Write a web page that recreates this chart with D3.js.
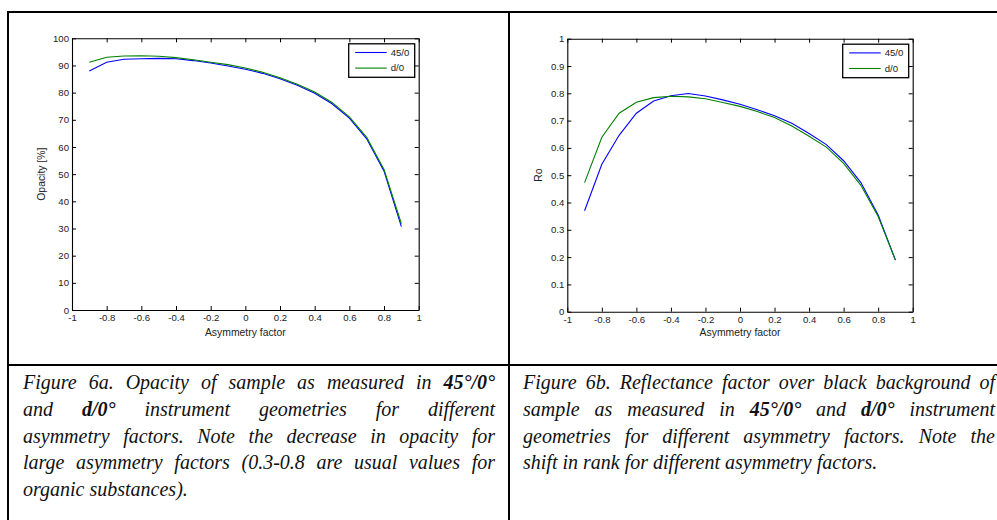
<!DOCTYPE html>
<html>
<head>
<meta charset="utf-8">
<script src="https://cdn.jsdelivr.net/npm/d3@7"></script>
<style>
  html, body { margin: 0; padding: 0; background: #fff; }
  svg { display: block; }
  .tick text { font-family: "Liberation Sans", Arial, sans-serif; font-size: 9.6px; fill: #222; }
</style>
</head>
<body>
<svg id="chart" width="997" height="520"></svg>
<script>
// ---------------- data ----------------
const asymmetry = [-0.9, -0.8, -0.7, -0.6, -0.5, -0.4, -0.3, -0.2, -0.1, 0, 0.1, 0.2, 0.3, 0.4, 0.5, 0.6, 0.7, 0.8, 0.9];
const opacity45 = [88.0, 91.2, 92.3, 92.5, 92.6, 92.5, 91.8, 90.9, 89.8, 88.6, 87.1, 85.1, 82.7, 79.8, 75.9, 70.6, 63.0, 51.1, 30.7];
const opacityD0 = [91.2, 93.0, 93.5, 93.6, 93.4, 92.9, 92.1, 91.2, 90.3, 89.1, 87.5, 85.5, 83.1, 80.2, 76.4, 71.1, 63.6, 51.7, 31.8];
const ro45 = [0.370, 0.540, 0.646, 0.727, 0.772, 0.791, 0.799, 0.790, 0.776, 0.760, 0.740, 0.718, 0.690, 0.653, 0.612, 0.553, 0.473, 0.354, 0.189];
const roD0 = [0.473, 0.639, 0.727, 0.767, 0.784, 0.789, 0.787, 0.780, 0.766, 0.752, 0.733, 0.711, 0.680, 0.643, 0.603, 0.543, 0.463, 0.349, 0.189];
const seriesNames = ["45/0", "d/0"];
const seriesColors = ["#0000ff", "#008000"];
const xTicks = [-1, -0.8, -0.6, -0.4, -0.2, 0, 0.2, 0.4, 0.6, 0.8, 1];
const opacityTicks = [0, 10, 20, 30, 40, 50, 60, 70, 80, 90, 100];
const roTicks = [0, 0.1, 0.2, 0.3, 0.4, 0.5, 0.6, 0.7, 0.8, 0.9, 1];
const captionA = [
  [["Figure"], ["6a."], ["Opacity"], ["of"], ["sample"], ["as"], ["measured"], ["in"], ["45°/0°", 1]],
  [["and"], ["d/0°", 1], ["instrument"], ["geometries"], ["for"], ["different"]],
  [["asymmetry"], ["factors."], ["Note"], ["the"], ["decrease"], ["in"], ["opacity"], ["for"]],
  [["large"], ["asymmetry"], ["factors"], ["(0.3-0.8"], ["are"], ["usual"], ["values"], ["for"]],
  [["organic"], ["substances)."]]
];
const captionB = [
  [["Figure"], ["6b."], ["Reflectance"], ["factor"], ["over"], ["black"], ["background"], ["of"]],
  [["sample"], ["as"], ["measured"], ["in"], ["45°/0°", 1], ["and"], ["d/0°", 1], ["instrument"]],
  [["geometries"], ["for"], ["different"], ["asymmetry"], ["factors."], ["Note"], ["the"]],
  [["shift"], ["in"], ["rank"], ["for"], ["different"], ["asymmetry"], ["factors."]]
];

const svg = d3.select("#chart");
svg.append("rect").attr("width", 997).attr("height", 520).attr("fill", "#fff");

// ---------------- table borders ----------------
const border = svg.append("g").attr("stroke", "#000").attr("stroke-width", 2);
border.append("line").attr("x1", 7).attr("x2", 997).attr("y1", 12).attr("y2", 12);
border.append("line").attr("x1", 8).attr("x2", 8).attr("y1", 11).attr("y2", 520);
border.append("line").attr("x1", 509).attr("x2", 509).attr("y1", 11).attr("y2", 520);
border.append("line").attr("x1", 7).attr("x2", 997).attr("y1", 365).attr("y2", 365);

// ---------------- chart drawing ----------------
function drawChart(cfg) {
  const { left, right, top, bottom, yDomain, yTicks, yFmt, series, yLabel, yLabelX } = cfg;
  const x = d3.scaleLinear().domain([-1, 1]).range([left, right]);
  const y = d3.scaleLinear().domain(yDomain).range([bottom, top]);
  const g = svg.append("g");

  const fmt = v => String(+v.toFixed(2));

  g.append("g").attr("transform", `translate(0,${bottom})`)
    .call(d3.axisBottom(x).tickValues(xTicks).tickFormat(fmt).tickSizeInner(-4).tickSizeOuter(0).tickPadding(4));
  g.append("g").attr("transform", `translate(0,${top})`)
    .call(d3.axisTop(x).tickValues(xTicks).tickFormat("").tickSizeInner(-4).tickSizeOuter(0));
  g.append("g").attr("transform", `translate(${left},0)`)
    .call(d3.axisLeft(y).tickValues(yTicks).tickFormat(yFmt).tickSizeInner(-4).tickSizeOuter(0).tickPadding(3));
  g.append("g").attr("transform", `translate(${right},0)`)
    .call(d3.axisRight(y).tickValues(yTicks).tickFormat("").tickSizeInner(-4).tickSizeOuter(0));
  g.selectAll(".domain").attr("stroke", "#000").attr("stroke-width", 1.1);
  g.selectAll(".tick line").attr("stroke", "#000");

  const line = d3.line().x((d, i) => x(asymmetry[i])).y(d => y(d));
  series.forEach((s, k) => {
    g.append("path").datum(s).attr("d", line)
      .attr("fill", "none").attr("stroke", seriesColors[k]).attr("stroke-width", 1.1);
  });

  // axis labels
  g.append("text").attr("x", (left + right) / 2).attr("y", 336)
    .attr("text-anchor", "middle")
    .style("font-family", '"Liberation Sans", Arial, sans-serif').style("font-size", "10.4px").attr("fill", "#222")
    .text("Asymmetry factor");
  g.append("text").attr("transform", `translate(${yLabelX},${(top + bottom) / 2}) rotate(-90)`)
    .attr("text-anchor", "middle").attr("dy", "0.35em")
    .style("font-family", '"Liberation Sans", Arial, sans-serif').style("font-size", "10.4px").attr("fill", "#222")
    .text(yLabel);

  // legend
  const bw = 66, bh = 33.5;
  const bx = right - 4 - bw, by = top + 5.5;
  const lg = g.append("g").attr("transform", `translate(${bx},${by})`);
  lg.append("rect").attr("width", bw).attr("height", bh).attr("fill", "#fff")
    .attr("stroke", "#000").attr("stroke-width", 1.3);
  seriesNames.forEach((n, k) => {
    const yy = 8.7 + k * 15.6;
    lg.append("line").attr("x1", 6.5).attr("x2", 38).attr("y1", yy).attr("y2", yy)
      .attr("stroke", seriesColors[k]).attr("stroke-width", 1.1);
    lg.append("text").attr("x", 42).attr("y", yy).attr("dy", "0.35em")
      .style("font-family", '"Liberation Sans", Arial, sans-serif').style("font-size", "9.6px").attr("fill", "#222")
      .text(n);
  });
}

drawChart({
  left: 72, right: 418.7, top: 38.3, bottom: 310,
  yDomain: [0, 100], yTicks: opacityTicks, yFmt: d => String(d),
  series: [opacity45, opacityD0], yLabel: "Opacity [%]", yLabelX: 41
});
drawChart({
  left: 567.3, right: 912.7, top: 38.7, bottom: 311.7,
  yDomain: [0, 1], yTicks: roTicks, yFmt: d => String(+d.toFixed(1)),
  series: [ro45, roD0], yLabel: "Ro", yLabelX: 538
});

// ---------------- captions ----------------
const capFont = '"Liberation Serif", "Times New Roman", serif';
function measure(str, size, bold) {
  const t = svg.append("text").style("font-family", capFont).style("font-style", "italic")
    .style("font-weight", bold ? "bold" : "normal").style("font-size", size + "px").text(str);
  const w = t.node().getComputedTextLength();
  t.remove();
  return w;
}
// choose caption size so the unjustified last line matches the reference width (~380px)
let capSize = 100 * 380 / measure("shift in rank for different asymmetry factors.", 100, false);
capSize = Math.max(15, Math.min(20, capSize));

function drawCaption(lines, x0, x1, y0, lh) {
  const g = svg.append("g");
  const space = capSize * 0.25;
  lines.forEach((words, li) => {
    const last = li === lines.length - 1;
    const widths = words.map(w => measure(w[0], capSize, w[1]));
    const total = d3.sum(widths);
    const gap = (!last && words.length > 1) ? (x1 - x0 - total) / (words.length - 1) : space;
    let cx = x0;
    words.forEach((w, i) => {
      g.append("text").attr("x", cx).attr("y", y0 + li * lh)
        .style("font-family", capFont).style("font-style", "italic")
        .style("font-weight", w[1] ? "bold" : "normal")
        .style("font-size", capSize + "px").attr("fill", "#111")
        .text(w[0]);
      cx += widths[i] + gap;
    });
  });
}
drawCaption(captionA, 23, 495, 389, 26.8);
drawCaption(captionB, 523, 995, 389, 26.8);
</script>
</body>
</html>
